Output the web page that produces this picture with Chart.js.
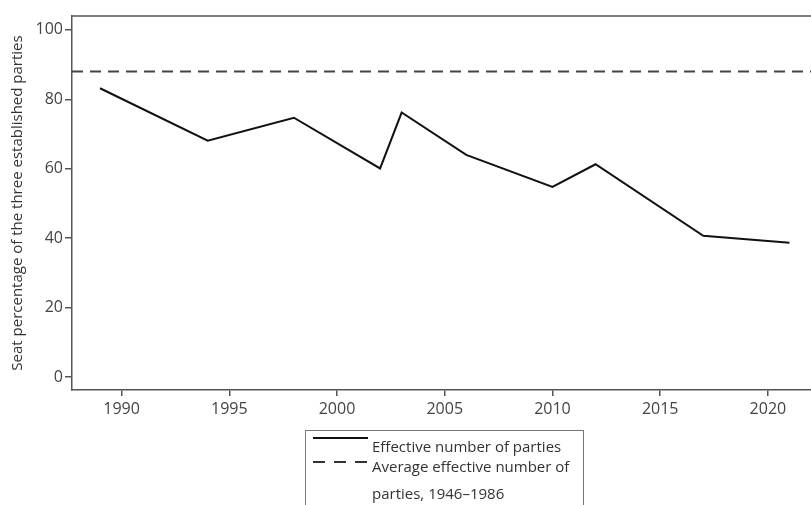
<!DOCTYPE html>
<html>
<head>
<meta charset="utf-8">
<script src="https://cdn.jsdelivr.net/npm/chart.js@4"></script>
<style>
  body { margin: 0; background: #fff; }
  #wrap { position: relative; width: 811px; height: 505px; overflow: hidden; }
  #legend {
    position: absolute; left: 305px; top: 430px; width: 277px; height: 90px;
    border: 1px solid #777; font-family: "Open Sans", sans-serif; font-size: 15px; color: #333;
  }
  .sample { position: absolute; left: 7px; width: 55px; height: 2px; }
  .txt { position: absolute; left: 66px; white-space: nowrap; line-height: 20px; }
</style>
</head>
<body>
<div id="wrap">
  <canvas id="chart" width="811" height="505"></canvas>
  <div id="legend">
    <div class="sample" style="top:6px;background:#111;"></div>
    <div class="txt" style="top:5px;">Effective number of parties</div>
    <div class="sample" style="top:30px;background:repeating-linear-gradient(90deg,#333 0 12px,transparent 12px 21px);"></div>
    <div class="txt" style="top:25px;">Average effective number of</div>
    <div class="txt" style="top:52px;">parties, 1946–1986</div>
  </div>
</div>
<script>
// election years and seat share of the three established parties
const years = [1989, 1994, 1998, 2002, 2003, 2006, 2010, 2012, 2017, 2021];
const seatShare = [83.2, 68.1, 74.7, 60.1, 76.2, 64.0, 54.8, 61.3, 40.7, 38.7];
const avgLevel = 88;
const xTicks = [1990, 1995, 2000, 2005, 2010, 2015, 2020];
const yTicks = [0, 20, 40, 60, 80, 100];
const xMin = 1987.7, xMax = 2022;

const axisColor = "#555";
const tickFont = { family: "Open Sans", size: 16 };
const titleFont = { family: "Open Sans", size: 15 };

// top frame line
const frame = {
    id: 'frame',
    afterDraw(chart) {
        const { ctx, chartArea } = chart;
        ctx.save();
        ctx.strokeStyle = axisColor;
        ctx.lineWidth = 1.5;
        ctx.beginPath();
        ctx.moveTo(chartArea.left, chartArea.top);
        ctx.lineTo(chartArea.right, chartArea.top);
        ctx.stroke();
        ctx.restore();
    }
};

new Chart(document.getElementById('chart'), {
    type: 'line',
    data: {
        datasets: [{
            label: 'Effective number of parties',
            data: years.map((y, i) => ({ x: y, y: seatShare[i] })),
            borderColor: "#111",
            borderWidth: 2,
            pointRadius: 0,
            tension: 0
        }, {
            label: 'Average effective number of parties, 1946–1986',
            data: [{ x: xMin, y: avgLevel }, { x: xMax, y: avgLevel }],
            borderColor: "#444",
            borderWidth: 2,
            borderDash: [11, 7],
            pointRadius: 0
        }]
    },
    options: {
        responsive: false,
        animation: false,
        layout: { padding: { top: 16, left: 0, right: 0, bottom: 0 } },
        plugins: { legend: { display: false }, tooltip: { enabled: false } },
        scales: {
            x: {
                type: 'linear',
                min: xMin,
                max: xMax,
                afterBuildTicks: s => { s.ticks = xTicks.map(v => ({ value: v })); },
                afterFit: s => { s.height = 115; },
                ticks: { color: "#444", font: tickFont, padding: 4, maxRotation: 0, callback: v => String(v) },
                grid: { drawOnChartArea: false, drawTicks: true, tickLength: 6, color: axisColor, lineWidth: 1.5 },
                border: { display: true, color: axisColor, width: 1.5 }
            },
            y: {
                min: -3.7,
                max: 104,
                afterBuildTicks: s => { s.ticks = yTicks.map(v => ({ value: v })); },
                afterFit: s => { s.width = 72; },
                ticks: { color: "#444", font: tickFont, padding: 2 },
                grid: { drawOnChartArea: false, drawTicks: true, tickLength: 7, color: axisColor, lineWidth: 1.5 },
                border: { display: true, color: axisColor, width: 1.5 },
                title: {
                    display: true,
                    text: 'Seat percentage of the three established parties',
                    color: "#333",
                    font: titleFont,
                    padding: { top: 9, bottom: 0 }
                }
            }
        }
    },
    plugins: [frame]
});
</script>
</body>
</html>
